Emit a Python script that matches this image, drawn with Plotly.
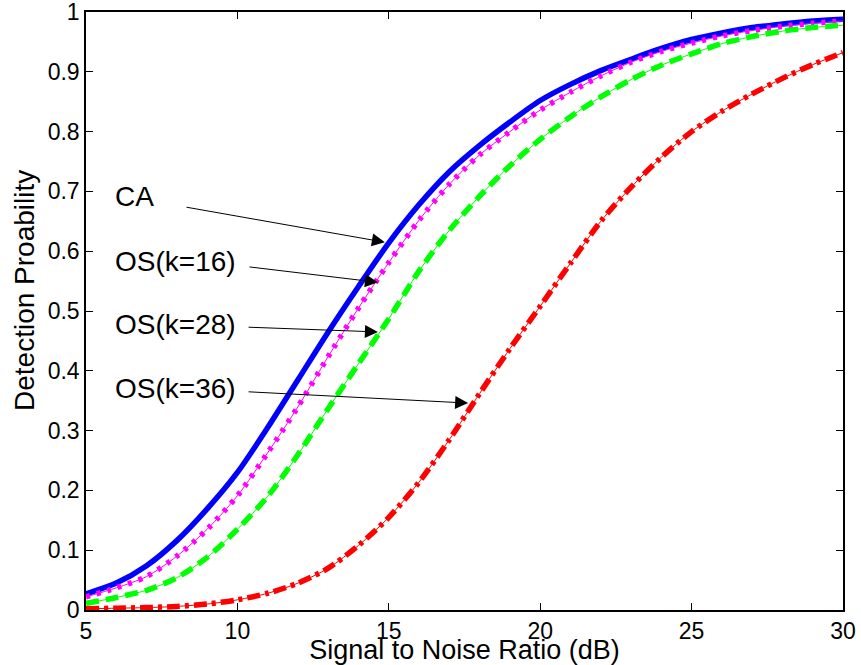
import plotly.graph_objects as go

snr = [5, 6, 7, 8, 9, 10, 11, 12, 13, 14, 15, 16, 17, 18, 19, 20, 21, 22, 23, 24, 25, 26, 27, 28, 29, 30]
pd_ca = [0.027, 0.045, 0.074, 0.116, 0.169, 0.230, 0.305, 0.385, 0.465, 0.541, 0.614, 0.678, 0.733, 0.777,
         0.816, 0.852, 0.879, 0.902, 0.921, 0.939, 0.954, 0.965, 0.974, 0.980, 0.985, 0.988]
pd_os16 = [0.022, 0.037, 0.056, 0.090, 0.135, 0.191, 0.263, 0.340, 0.424, 0.505, 0.581, 0.652, 0.712, 0.761,
           0.800, 0.836, 0.866, 0.893, 0.916, 0.934, 0.948, 0.960, 0.969, 0.976, 0.981, 0.985]
pd_os28 = [0.011, 0.021, 0.033, 0.054, 0.088, 0.135, 0.190, 0.260, 0.337, 0.412, 0.487, 0.567, 0.635, 0.692,
           0.743, 0.787, 0.825, 0.858, 0.887, 0.911, 0.930, 0.947, 0.959, 0.968, 0.974, 0.978]
pd_os36 = [0.002, 0.003, 0.004, 0.006, 0.010, 0.017, 0.028, 0.045, 0.070, 0.108, 0.155, 0.214, 0.285, 0.362,
           0.437, 0.508, 0.580, 0.650, 0.707, 0.757, 0.800, 0.834, 0.863, 0.889, 0.912, 0.932]

x_ticks = [5, 10, 15, 20, 25, 30]
labels = ["CA", "OS(k=16)", "OS(k=28)", "OS(k=36)"]

FONT = "Liberation Sans, Arial, sans-serif"

fig = go.Figure()

series = [
    (pd_ca, "#0000FF", "solid"),
    (pd_os16, "#FF00FF", "4px,7px"),
    (pd_os28, "#00FF00", "13px,7px"),
    (pd_os36, "#FF0000", "13px,5px,4px,5px"),
]
for (vals, col, dash), name in zip(series, labels):
    if dash != "solid":
        fig.add_trace(go.Scatter(x=snr, y=vals, mode="lines", name=name, showlegend=False,
                                 line=dict(color=col, width=1, shape="spline", smoothing=0.8)))
        fig.add_trace(go.Scatter(x=snr, y=vals, mode="lines", name=name, showlegend=False,
                                 line=dict(color=col, width=5.5, dash=dash, shape="spline", smoothing=0.8)))
    else:
        fig.add_trace(go.Scatter(x=snr, y=vals, mode="lines", name=name, showlegend=False,
                                 line=dict(color=col, width=5.5, shape="spline", smoothing=0.8)))

# text labels
text_pos = [(5.9, 0.691), (5.9, 0.582), (5.9, 0.477), (5.9, 0.371)]
for (tx, ty), lab in zip(text_pos, labels):
    fig.add_annotation(x=tx, y=ty, xref="x", yref="y", text=lab, showarrow=False,
                       xanchor="left", yanchor="middle",
                       font=dict(family=FONT, size=28, color="black"))

# arrows (tail -> tip)
arrows = [((8.27, 0.674), (14.87, 0.615)),
          ((10.35, 0.574), (14.64, 0.548)),
          ((10.32, 0.473), (14.64, 0.465)),
          ((10.32, 0.365), (17.62, 0.346))]
for (ax, ay), (hx, hy) in arrows:
    fig.add_annotation(x=hx, y=hy, ax=ax, ay=ay, xref="x", yref="y", axref="x", ayref="y",
                       text="", showarrow=True, arrowhead=2, arrowsize=2.6, arrowwidth=1,
                       arrowcolor="black", standoff=0, startstandoff=0)

# y-axis title as a rotated annotation
fig.add_annotation(x=-0.082, y=0.535, xref="paper", yref="paper", text="Detection Proability",
                   textangle=-90, showarrow=False, xanchor="center", yanchor="middle",
                   font=dict(family=FONT, size=28, color="black"))

axis_common = dict(showgrid=False, zeroline=False, showline=True, linecolor="black", linewidth=1.5,
                   mirror="ticks", ticks="inside", ticklen=7, tickcolor="black", tickwidth=1,
                   automargin=False, ticklabeloverflow="allow")

fig.update_xaxes(range=[5, 30], tickvals=x_ticks, ticktext=[str(v) for v in x_ticks],
                 tickfont=dict(family=FONT, size=23, color="black"), ticklabelstandoff=0,
                 title=dict(text="Signal to Noise Ratio (dB)", font=dict(family=FONT, size=27, color="black"),
                            standoff=3),
                 **axis_common)
fig.update_yaxes(range=[0, 1], dtick=0.1, tick0=0,
                 tickfont=dict(family=FONT, size=23, color="black"),
                 **axis_common)

fig.update_layout(width=861, height=665, margin=dict(l=86, r=18, t=12, b=55),
                  plot_bgcolor="white", paper_bgcolor="white", showlegend=False)

fig.write_html("out.html")
